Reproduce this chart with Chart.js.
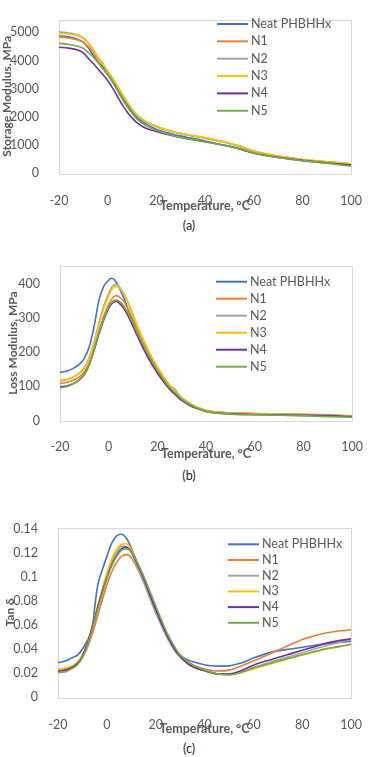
<!DOCTYPE html>
<html>
<head>
<meta charset="utf-8">
<script src="https://cdn.jsdelivr.net/npm/chart.js@4.4.1/dist/chart.umd.min.js"></script>
<style>
  body { margin: 0; background: #fff; width: 374px; height: 757px; position: relative; overflow: hidden; }
  canvas { position: absolute; left: 0; }
  .cap { position: absolute; left: 0; width: 378px; text-align: center; font: 12.5px Lato, sans-serif; line-height: 15px; color: #262626; }
</style>
</head>
<body>
<canvas id="chartA" width="374" height="213" style="top:0px"></canvas>
<div class="cap" style="top:218px">(a)</div>
<canvas id="chartB" width="374" height="215" style="top:246px"></canvas>
<div class="cap" style="top:468px">(b)</div>
<canvas id="chartC" width="374" height="228" style="top:508px"></canvas>
<div class="cap" style="top:741px">(c)</div>

<script>
// series names and colours (Excel default palette)
const seriesNames = ['Neat PHBHHx', 'N1', 'N2', 'N3', 'N4', 'N5'];
const seriesColors = ['#4472C4', '#ED7D31', '#A5A5A5', '#FFC000', '#7030A0', '#70AD47'];

// tick labels
const tempTicks = [-20, 0, 20, 40, 60, 80, 100];
const storageTicks = [0, 1000, 2000, 3000, 4000, 5000];
const lossTicks = [0, 100, 200, 300, 400];
const tanTicks = [0, 0.02, 0.04, 0.06, 0.08, 0.1, 0.12, 0.14];

// (a) Storage modulus, MPa
const tempStorage = [-20, -16, -12, -10, -8, -6, -4, -2, 0, 2, 4, 6, 8, 10, 12, 15, 20, 25, 30, 35, 40, 45, 50, 55, 60, 65, 70, 80, 90, 100];
const storageNeat = [4880, 4840, 4740, 4650, 4450, 4200, 3950, 3780, 3560, 3300, 3000, 2700, 2420, 2180, 1980, 1780, 1560, 1420, 1310, 1230, 1140, 1040, 940, 830, 700, 620, 550, 440, 360, 290];
const storageN1 = [4830, 4800, 4720, 4650, 4500, 4300, 4060, 3860, 3600, 3350, 3070, 2780, 2510, 2270, 2070, 1860, 1650, 1510, 1400, 1320, 1250, 1160, 1060, 930, 780, 680, 600, 480, 400, 320];
const storageN2 = [5010, 4980, 4900, 4800, 4640, 4400, 4120, 3890, 3620, 3370, 3090, 2790, 2520, 2270, 2070, 1860, 1650, 1510, 1400, 1320, 1240, 1140, 1040, 910, 770, 670, 590, 470, 390, 310];
const storageN3 = [4970, 4940, 4870, 4780, 4620, 4380, 4100, 3880, 3620, 3380, 3100, 2800, 2530, 2280, 2080, 1870, 1660, 1520, 1410, 1330, 1260, 1160, 1060, 930, 780, 680, 600, 480, 400, 330];
const storageN4 = [4470, 4440, 4360, 4270, 4080, 3900, 3700, 3500, 3290, 3020, 2720, 2420, 2170, 1960, 1790, 1620, 1480, 1360, 1260, 1180, 1110, 1030, 950, 840, 710, 620, 560, 450, 360, 280];
const storageN5 = [4610, 4570, 4500, 4430, 4280, 4130, 3930, 3700, 3480, 3220, 2920, 2630, 2350, 2120, 1920, 1720, 1520, 1380, 1270, 1190, 1110, 1030, 950, 840, 710, 620, 550, 440, 350, 240];

// (b) Loss modulus, MPa
const tempLoss = [-20, -17, -14, -12, -10, -8, -6, -4, -2, 0, 1, 2, 3, 4, 6, 8, 10, 12, 15, 18, 20, 23, 25, 26, 27, 28, 30, 33, 36, 40, 45, 50, 60, 70, 80, 90, 100];
const lossNeat = [141, 145, 155, 165, 182, 215, 275, 352, 393, 410, 416, 414, 405, 392, 362, 325, 286, 250, 203, 162, 140, 112, 96, 89, 82, 75, 62, 47, 37, 28, 23, 21, 19, 18, 17, 15, 12];
const lossN1 = [108, 112, 120, 128, 142, 168, 210, 260, 305, 340, 352, 361, 365, 363, 350, 325, 295, 262, 217, 177, 154, 121, 102, 94, 86, 80, 66, 51, 40, 30, 25, 23, 21, 20, 19, 17, 14];
const lossN2 = [115, 120, 130, 140, 155, 185, 230, 285, 335, 372, 387, 396, 398, 394, 374, 343, 307, 271, 222, 180, 156, 122, 104, 98, 94, 84, 68, 52, 40, 30, 24, 22, 20, 19, 18, 16, 13];
const lossN3 = [118, 122, 130, 138, 152, 180, 225, 278, 328, 365, 380, 389, 392, 390, 374, 345, 310, 274, 225, 182, 158, 124, 105, 96, 88, 82, 68, 52, 40, 30, 24, 22, 20, 19, 18, 16, 13];
const lossN4 = [99, 102, 110, 120, 135, 163, 205, 253, 295, 328, 339, 346, 348, 345, 330, 305, 275, 244, 200, 162, 140, 109, 92, 85, 78, 72, 59, 46, 36, 27, 22, 20, 18, 17, 16, 15, 12];
const lossN5 = [96, 100, 110, 120, 135, 165, 208, 258, 300, 332, 343, 350, 352, 350, 337, 313, 284, 253, 209, 170, 147, 115, 97, 90, 83, 77, 63, 49, 38, 28, 22, 19, 17, 16, 14, 12, 10];

// (c) Tan delta
const tempTan = [-20, -17, -14, -12, -10, -8, -6, -5, -4, -3, -2, 0, 2, 4, 6, 8, 10, 12, 15, 18, 20, 22, 25, 28, 30, 33, 36, 40, 45, 50, 55, 60, 65, 70, 75, 80, 85, 90, 95, 100];
const tanNeat = [0.0287, 0.030, 0.033, 0.035, 0.040, 0.047, 0.058, 0.074, 0.090, 0.099, 0.105, 0.117, 0.128, 0.134, 0.1354, 0.132, 0.124, 0.114, 0.099, 0.083, 0.073, 0.063, 0.050, 0.040, 0.035, 0.031, 0.029, 0.027, 0.0258, 0.026, 0.0285, 0.0325, 0.036, 0.0385, 0.040, 0.0415, 0.043, 0.0445, 0.0455, 0.0465];
const tanN1 = [0.022, 0.0225, 0.025, 0.028, 0.033, 0.041, 0.052, 0.059, 0.066, 0.073, 0.080, 0.093, 0.104, 0.112, 0.117, 0.1185, 0.116, 0.109, 0.096, 0.081, 0.071, 0.062, 0.049, 0.039, 0.034, 0.029, 0.026, 0.0235, 0.0218, 0.0225, 0.026, 0.030, 0.0345, 0.039, 0.0435, 0.048, 0.051, 0.0535, 0.055, 0.056];
const tanN2 = [0.023, 0.024, 0.026, 0.029, 0.035, 0.045, 0.058, 0.065, 0.073, 0.080, 0.088, 0.101, 0.113, 0.121, 0.1255, 0.125, 0.120, 0.111, 0.096, 0.080, 0.070, 0.061, 0.048, 0.038, 0.033, 0.028, 0.025, 0.022, 0.0195, 0.019, 0.021, 0.0245, 0.028, 0.031, 0.034, 0.037, 0.040, 0.043, 0.0455, 0.048];
const tanN3 = [0.023, 0.024, 0.026, 0.029, 0.035, 0.045, 0.058, 0.066, 0.074, 0.081, 0.089, 0.103, 0.115, 0.123, 0.127, 0.1275, 0.123, 0.114, 0.099, 0.083, 0.073, 0.063, 0.050, 0.039, 0.034, 0.029, 0.025, 0.022, 0.0195, 0.019, 0.0205, 0.0235, 0.0265, 0.0295, 0.0325, 0.035, 0.0375, 0.040, 0.042, 0.044];
const tanN4 = [0.0215, 0.0225, 0.025, 0.028, 0.034, 0.045, 0.058, 0.065, 0.073, 0.080, 0.087, 0.099, 0.110, 0.118, 0.1235, 0.1245, 0.121, 0.113, 0.099, 0.083, 0.073, 0.063, 0.050, 0.039, 0.034, 0.028, 0.0245, 0.022, 0.0195, 0.0192, 0.022, 0.0265, 0.030, 0.033, 0.036, 0.039, 0.042, 0.045, 0.047, 0.0485];
const tanN5 = [0.0205, 0.021, 0.024, 0.027, 0.033, 0.043, 0.056, 0.063, 0.071, 0.078, 0.085, 0.098, 0.109, 0.117, 0.122, 0.1232, 0.121, 0.114, 0.101, 0.086, 0.076, 0.066, 0.052, 0.041, 0.035, 0.030, 0.026, 0.0225, 0.0195, 0.0185, 0.0205, 0.0245, 0.027, 0.030, 0.0325, 0.0353, 0.038, 0.0405, 0.042, 0.044];

const textGray = '#595959';
const fontFamily = 'Lato, "Open Sans", sans-serif';

// grey box around the plot area
const framePlugin = {
    id: 'frame',
    beforeDatasetsDraw(chart) {
        const { ctx, chartArea: a } = chart;
        ctx.save();
        ctx.strokeStyle = '#D9D9D9';
        ctx.lineWidth = 1;
        ctx.strokeRect(Math.round(a.left) + 0.5, Math.round(a.top) + 0.5, Math.round(a.right - a.left), Math.round(a.bottom - a.top));
        ctx.restore();
    }
};

// legend drawn as a plain list inside the plot, like Excel
const sideLegendPlugin = {
    id: 'sideLegend',
    afterDatasetsDraw(chart, args, opts) {
        const ctx = chart.ctx;
        ctx.save();
        ctx.font = '12.5px ' + fontFamily;
        ctx.textBaseline = 'middle';
        chart.data.datasets.forEach((ds, i) => {
            const y = opts.y0 + i * opts.step;
            ctx.strokeStyle = ds.borderColor;
            ctx.lineWidth = 2;
            ctx.beginPath();
            ctx.moveTo(opts.x, y);
            ctx.lineTo(opts.x + opts.len, y);
            ctx.stroke();
            ctx.fillStyle = textGray;
            ctx.fillText(ds.label, opts.x + opts.len + 3, y);
        });
        ctx.restore();
    }
};

function buildDatasets(temps, seriesValues) {
    return seriesValues.map((vals, i) => ({
        label: seriesNames[i],
        data: temps.map((t, j) => ({ x: t, y: vals[j] })),
        borderColor: seriesColors[i],
        backgroundColor: seriesColors[i],
        borderWidth: 1.6,
        pointRadius: 0,
        cubicInterpolationMode: 'monotone',
        order: seriesValues.length - i // last series on top
    }));
}

function makeChart(id, temps, seriesValues, cfg) {
    const ctx = document.getElementById(id).getContext('2d');
    return new Chart(ctx, {
        type: 'line',
        data: { datasets: buildDatasets(temps, seriesValues) },
        plugins: [framePlugin, sideLegendPlugin],
        options: {
            responsive: false,
            animation: false,
            events: [],
            layout: { padding: { top: cfg.padTop, right: cfg.padRight, left: 0, bottom: 0 } },
            plugins: {
                legend: { display: false },
                tooltip: { enabled: false },
                sideLegend: cfg.legend
            },
            scales: {
                x: {
                    type: 'linear',
                    min: -20,
                    max: 100,
                    grid: { display: false },
                    border: { display: false },
                    ticks: { padding: cfg.xTickPad, color: textGray, font: { family: fontFamily, size: 12.5 } },
                    title: { display: true, text: 'Temperature, °C', color: textGray, padding: 0, font: { family: fontFamily, size: 12.5, weight: 'bold' } },
                    afterBuildTicks: s => { s.ticks = tempTicks.map(v => ({ value: v })); },
                    afterFit: s => { s.height = cfg.xHeight; }
                },
                y: {
                    min: 0,
                    max: cfg.yMax,
                    grid: { display: false },
                    border: { display: false },
                    ticks: {
                        padding: 12,
                        color: textGray,
                        font: { family: fontFamily, size: 12.5 },
                        callback: v => String(+v.toFixed(2))
                    },
                    title: { display: true, text: cfg.yTitle, color: textGray, padding: { top: cfg.yTitlePad, bottom: 0 }, font: { family: fontFamily, size: 12, weight: 'bold' } },
                    afterBuildTicks: s => { s.ticks = cfg.yTicks.map(v => ({ value: v })); },
                    afterFit: s => { s.width = cfg.yWidth; }
                }
            }
        }
    });
}

makeChart('chartA', tempStorage,
    [storageNeat, storageN1, storageN2, storageN3, storageN4, storageN5],
    { yMax: 5457, yTicks: storageTicks, yTitle: 'Storage Modulus. MPa', yTitlePad: 0, yWidth: 59,
      padTop: 2, padRight: 12, xHeight: 40, xTickPad: 12,
      legend: { x: 217, len: 31, y0: 24, step: 17.35 } });

makeChart('chartB', tempLoss,
    [lossNeat, lossN1, lossN2, lossN3, lossN4, lossN5],
    { yMax: 453, yTicks: lossTicks, yTitle: 'Loss Modulus, MPa', yTitlePad: 5.5, yWidth: 60,
      padTop: 3.3, padRight: 12, xHeight: 40.3, xTickPad: 11,
      legend: { x: 216, len: 31, y0: 35.7, step: 17 } });

makeChart('chartC', tempTan,
    [tanNeat, tanN1, tanN2, tanN3, tanN4, tanN5],
    { yMax: 0.141, yTicks: tanTicks, yTitle: 'Tan δ', yTitlePad: 3, yWidth: 58,
      padTop: 4.7, padRight: 11, xHeight: 38.8, xTickPad: 12,
      legend: { x: 228, len: 31, y0: 36.3, step: 15.7 } });
</script>
</body>
</html>
